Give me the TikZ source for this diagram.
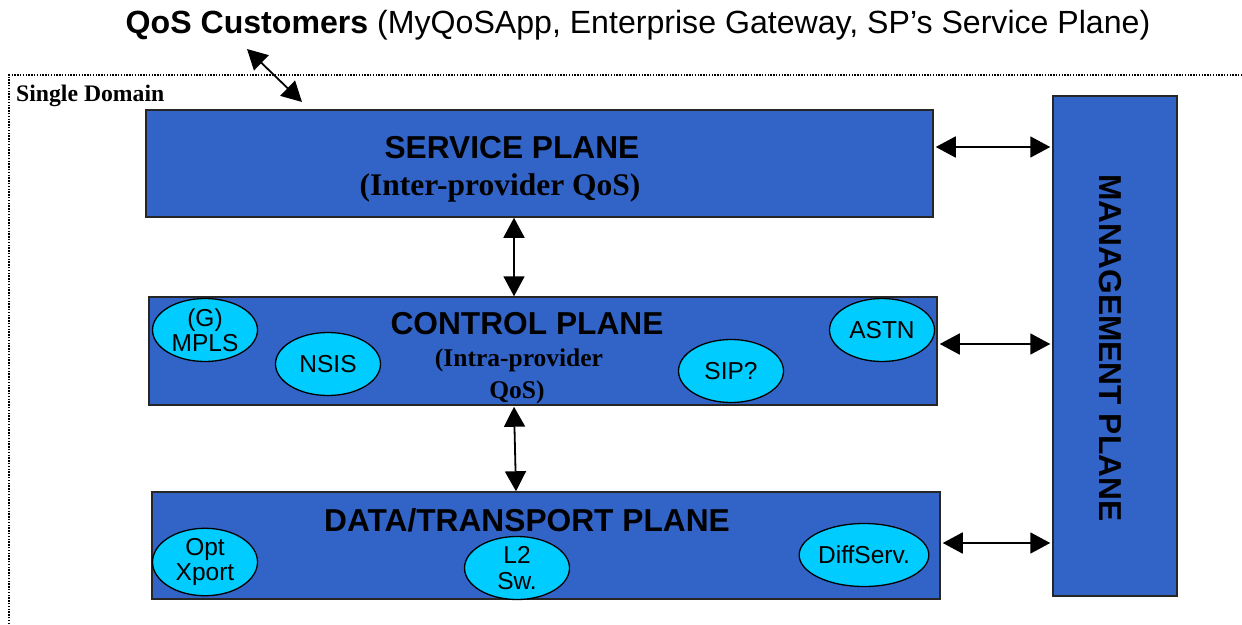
\documentclass[tikz,border=0pt]{standalone}
\usepackage{fontspec}
\setmainfont{Liberation Sans}
\newfontfamily\timesf{Liberation Serif}
\usetikzlibrary{arrows.meta,shapes.geometric,calc}
\definecolor{planeblue}{RGB}{50,100,200}
\definecolor{protocyan}{RGB}{0,204,255}
\tikzset{
  plane/.style={draw=black!85, line width=1.5pt, fill=planeblue, inner sep=0pt},
  proto/.style={ellipse, draw=black, line width=1.3pt, fill=protocyan, inner sep=0pt,
    minimum width=105pt, minimum height=63pt, align=center,
    font=\fontsize{24.5}{25.5}\selectfont},
  head/.style={font=\bfseries\fontsize{31.7}{34}\selectfont, inner sep=0pt},
  sub/.style={font=\timesf\bfseries\fontsize{31.5}{34}\selectfont, inner sep=0pt},
  subs/.style={font=\timesf\bfseries\fontsize{25.5}{32}\selectfont, inner sep=0pt},
  dbl/.style={{Triangle[length=20pt,width=21pt]}-{Triangle[length=20pt,width=21pt]}, line width=1.8pt, black}
}
\begin{document}
\begin{tikzpicture}[x=1pt,y=-1pt]
\useasboundingbox (0,0) rectangle (1242,624);
% title
\node[inner sep=0pt, font=\fontsize{32.1}{34}\selectfont] (title) at (638,25) {\textbf{QoS Customers} (MyQoSApp, Enterprise Gateway, SP’s Service Plane)};
% single domain frame
\draw[line width=1.3pt, dash pattern=on 1.4pt off 1.4pt] (9,624) -- (9,75) -- (1242,75);
\node[anchor=west, inner sep=0pt, font=\timesf\bfseries\fontsize{23.7}{26}\selectfont] (domain) at (16,96) {Single Domain};
% planes
\node[plane, minimum width=787pt, minimum height=107pt] (service) at (539.5,163.5) {};
\node[plane, minimum width=788pt, minimum height=108pt] (control) at (543,351) {};
\node[plane, minimum width=788pt, minimum height=107pt] (data) at (546,545.5) {};
\node[plane, minimum width=124pt, minimum height=500pt] (mgmt) at (1115,346) {};
% plane labels
\node[head] (svct) at (512,148) {SERVICE PLANE};
\node[sub] (svcs) at (500,188) {(Inter-provider QoS)};
\node[head] (ctlt) at (527,324) {CONTROL PLANE};
\node[subs] (ctls1) at (519,360) {(Intra-provider};
\node[subs] (ctls2) at (517,392) {QoS)};
\node[head] (datt) at (527,520) {DATA/TRANSPORT PLANE};
\node[head, rotate=-90] (mgt) at (1110,348) {MANAGEMENT PLANE};
% protocols
\node[proto] (mpls) at (205,330) {(G)\\MPLS};
\node[proto] (nsis) at (328,364) {NSIS};
\node[proto] (sip) at (731,371) {SIP?};
\node[proto] (astn) at (882,330) {ASTN};
\node[proto] (opt) at (205,562) {Opt\\Xport};
\node[proto] (l2) at (517,568) {L2\\Sw.};
\node[proto] (diff) at (864,555) {DiffServ.};
% arrows
\coordinate (custA) at (247,49);
\coordinate (custB) at (302,102);
\draw[dbl] (custA) -- (custB);
\draw[dbl] ($(service.east |- 0,147)+(2,0)$) -- ($(mgmt.west |- 0,147)+(-2,0)$);
\draw[dbl] ($(control.east |- 0,344)+(2,0)$) -- ($(mgmt.west |- 0,344)+(-2,0)$);
\draw[dbl] ($(data.east |- 0,543)+(2,0)$) -- ($(mgmt.west |- 0,543)+(-2,0)$);
\draw[dbl] (service.south -| 514,0) -- (control.north -| 514,0);
\draw[dbl] ($(control.south -| 514,0)+(0,1)$) -- (data.north -| 516,0);
\end{tikzpicture}
\end{document}
